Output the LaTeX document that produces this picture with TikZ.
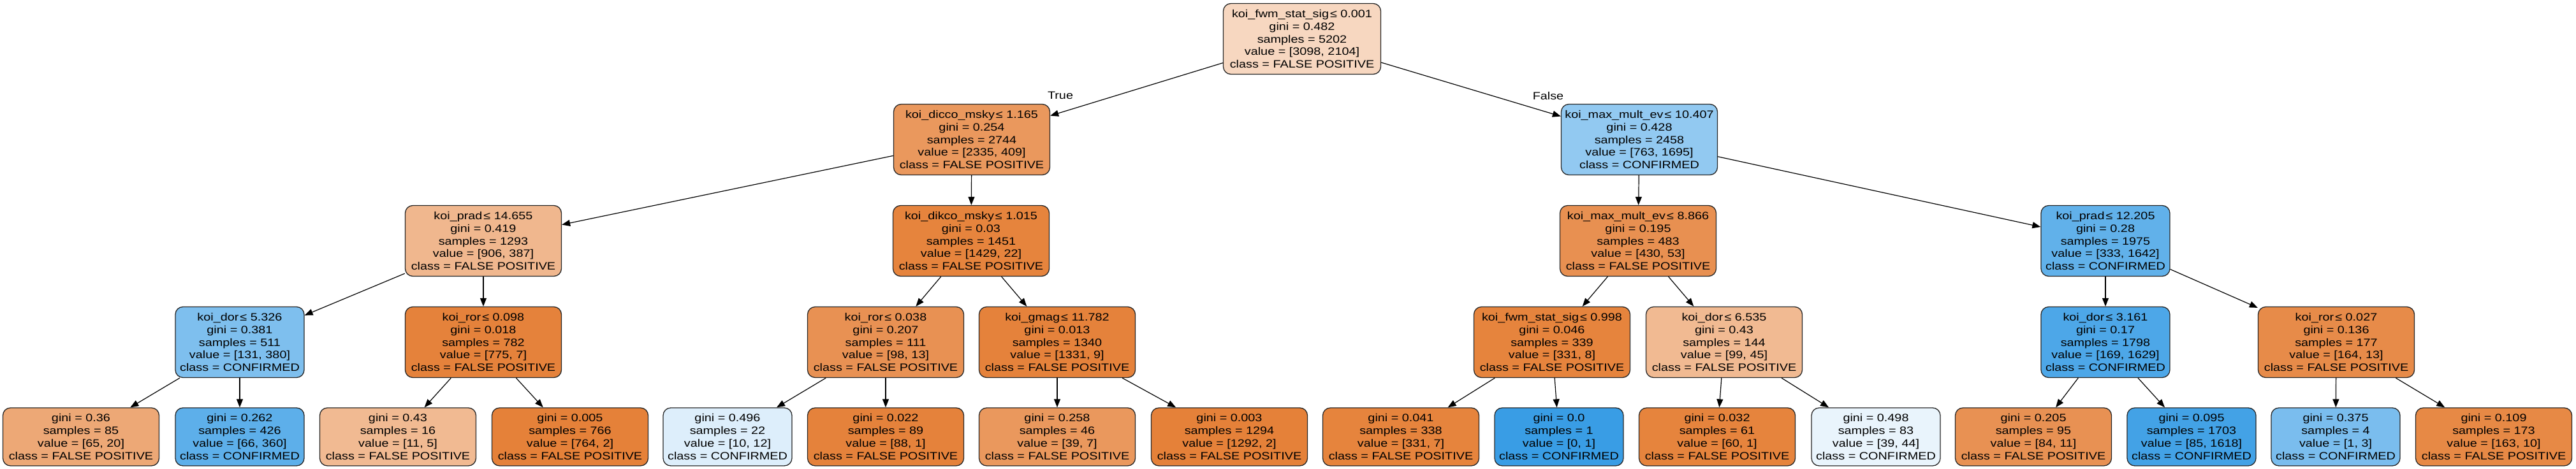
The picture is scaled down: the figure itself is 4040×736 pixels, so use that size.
\documentclass[tikz,border=0pt]{standalone}
\usepackage{fontspec}
\setmainfont{Liberation Sans}[FakeStretch=1.18]
\usetikzlibrary{arrows.meta}
\definecolor{fpc}{RGB}{229,129,57}
\definecolor{cfc}{RGB}{57,157,229}
\newcommand{\lesym}{\hspace{2pt}≤ }
\begin{document}
\begin{tikzpicture}[x=1pt,y=-1pt,
  tn/.style={rectangle, rounded corners=12pt, draw=black!85, line width=1.3pt, align=center, inner sep=0pt, font=\fontsize{16.8}{19.7}\selectfont},
  wd/.style={tn, minimum width=245pt, minimum height=111pt},
  nw/.style={tn, minimum width=202pt, minimum height=111pt},
  wdl/.style={tn, minimum width=245pt, minimum height=91pt},
  nwl/.style={tn, minimum width=202pt, minimum height=91pt},
  ed/.style={line width=1.2pt, -{Triangle[length=13pt,width=10pt]}},
  lbl/.style={font=\fontsize{16.8}{19.7}\selectfont, inner sep=0pt}]
\useasboundingbox (0,0) rectangle (4040,736);
% level 1
\node[wd, minimum width=247pt, fill=fpc!32!white] (r) at (2042,61) {koi\_fwm\_stat\_sig\lesym 0.001\\gini = 0.482\\samples = 5202\\value = [3098, 2104]\\class = FALSE POSITIVE};
% level 2
\node[wd, fill=fpc!82!white] (a) at (1524,219) {koi\_dicco\_msky\lesym 1.165\\gini = 0.254\\samples = 2744\\value = [2335, 409]\\class = FALSE POSITIVE};
\node[wd, fill=cfc!55!white] (b) at (2571,219) {koi\_max\_mult\_ev\lesym 10.407\\gini = 0.428\\samples = 2458\\value = [763, 1695]\\class = CONFIRMED};
% level 3
\node[wd, fill=fpc!57!white] (c) at (758,378) {koi\_prad\lesym 14.655\\gini = 0.419\\samples = 1293\\value = [906, 387]\\class = FALSE POSITIVE};
\node[wd, fill=fpc!98!white] (d) at (1523,378) {koi\_dikco\_msky\lesym 1.015\\gini = 0.03\\samples = 1451\\value = [1429, 22]\\class = FALSE POSITIVE};
\node[wd, fill=fpc!88!white] (e) at (2569,378) {koi\_max\_mult\_ev\lesym 8.866\\gini = 0.195\\samples = 483\\value = [430, 53]\\class = FALSE POSITIVE};
\node[nw, fill=cfc!80!white] (f) at (3302,378) {koi\_prad\lesym 12.205\\gini = 0.28\\samples = 1975\\value = [333, 1642]\\class = CONFIRMED};
% level 4
\node[nw, fill=cfc!65!white] (g) at (376,537) {koi\_dor\lesym 5.326\\gini = 0.381\\samples = 511\\value = [131, 380]\\class = CONFIRMED};
\node[wd, fill=fpc!99!white] (h) at (758,537) {koi\_ror\lesym 0.098\\gini = 0.018\\samples = 782\\value = [775, 7]\\class = FALSE POSITIVE};
\node[wd, fill=fpc!87!white] (i) at (1389,537) {koi\_ror\lesym 0.038\\gini = 0.207\\samples = 111\\value = [98, 13]\\class = FALSE POSITIVE};
\node[wd, fill=fpc!99!white] (j) at (1658,537) {koi\_gmag\lesym 11.782\\gini = 0.013\\samples = 1340\\value = [1331, 9]\\class = FALSE POSITIVE};
\node[wd, fill=fpc!98!white] (k) at (2434,537) {koi\_fwm\_stat\_sig\lesym 0.998\\gini = 0.046\\samples = 339\\value = [331, 8]\\class = FALSE POSITIVE};
\node[wd, fill=fpc!55!white] (l) at (2704,537) {koi\_dor\lesym 6.535\\gini = 0.43\\samples = 144\\value = [99, 45]\\class = FALSE POSITIVE};
\node[nw, fill=cfc!90!white] (m) at (3302,537) {koi\_dor\lesym 3.161\\gini = 0.17\\samples = 1798\\value = [169, 1629]\\class = CONFIRMED};
\node[wd, fill=fpc!92!white] (n) at (3664,537) {koi\_ror\lesym 0.027\\gini = 0.136\\samples = 177\\value = [164, 13]\\class = FALSE POSITIVE};
% leaves
\node[wdl, fill=fpc!69!white] (l1) at (127,685.5) {gini = 0.36\\samples = 85\\value = [65, 20]\\class = FALSE POSITIVE};
\node[nwl, fill=cfc!82!white] (l2) at (376,685.5) {gini = 0.262\\samples = 426\\value = [66, 360]\\class = CONFIRMED};
\node[wdl, fill=fpc!55!white] (l3) at (624,685.5) {gini = 0.43\\samples = 16\\value = [11, 5]\\class = FALSE POSITIVE};
\node[wdl, fill=fpc!100!white] (l4) at (894,685.5) {gini = 0.005\\samples = 766\\value = [764, 2]\\class = FALSE POSITIVE};
\node[nwl, fill=cfc!17!white] (l5) at (1141,685.5) {gini = 0.496\\samples = 22\\value = [10, 12]\\class = CONFIRMED};
\node[wdl, fill=fpc!99!white] (l6) at (1389,685.5) {gini = 0.022\\samples = 89\\value = [88, 1]\\class = FALSE POSITIVE};
\node[wdl, fill=fpc!82!white] (l7) at (1658,685.5) {gini = 0.258\\samples = 46\\value = [39, 7]\\class = FALSE POSITIVE};
\node[wdl, fill=fpc!100!white] (l8) at (1928,685.5) {gini = 0.003\\samples = 1294\\value = [1292, 2]\\class = FALSE POSITIVE};
\node[wdl, fill=fpc!98!white] (l9) at (2197,685.5) {gini = 0.041\\samples = 338\\value = [331, 7]\\class = FALSE POSITIVE};
\node[nwl, fill=cfc!100!white] (l10) at (2445,685.5) {gini = 0.0\\samples = 1\\value = [0, 1]\\class = CONFIRMED};
\node[wdl, fill=fpc!98!white] (l11) at (2693,685.5) {gini = 0.032\\samples = 61\\value = [60, 1]\\class = FALSE POSITIVE};
\node[nwl, fill=cfc!11!white] (l12) at (2942,685.5) {gini = 0.498\\samples = 83\\value = [39, 44]\\class = CONFIRMED};
\node[wdl, fill=fpc!87!white] (l13) at (3189,685.5) {gini = 0.205\\samples = 95\\value = [84, 11]\\class = FALSE POSITIVE};
\node[nwl, fill=cfc!95!white] (l14) at (3437,685.5) {gini = 0.095\\samples = 1703\\value = [85, 1618]\\class = CONFIRMED};
\node[nwl, fill=cfc!67!white] (l15) at (3663,685.5) {gini = 0.375\\samples = 4\\value = [1, 3]\\class = CONFIRMED};
\node[wdl, fill=fpc!94!white] (l16) at (3911,685.5) {gini = 0.109\\samples = 173\\value = [163, 10]\\class = FALSE POSITIVE};
% edges
\draw[ed] (r) -- (a);
\draw[ed] (r) -- (b);
\draw[ed] (a) -- (c);
\draw[ed] (a) -- (d);
\draw[ed] (b) -- (e);
\draw[ed] (b) -- (f);
\draw[ed] (c) -- (g);
\draw[ed] (c) -- (h);
\draw[ed] (d) -- (i);
\draw[ed] (d) -- (j);
\draw[ed] (e) -- (k);
\draw[ed] (e) -- (l);
\draw[ed] (f) -- (m);
\draw[ed] (f) -- (n);
\draw[ed] (g) -- (l1);
\draw[ed] (g) -- (l2);
\draw[ed] (h) -- (l3);
\draw[ed] (h) -- (l4);
\draw[ed] (i) -- (l5);
\draw[ed] (i) -- (l6);
\draw[ed] (j) -- (l7);
\draw[ed] (j) -- (l8);
\draw[ed] (k) -- (l9);
\draw[ed] (k) -- (l10);
\draw[ed] (l) -- (l11);
\draw[ed] (l) -- (l12);
\draw[ed] (m) -- (l13);
\draw[ed] (m) -- (l14);
\draw[ed] (n) -- (l15);
\draw[ed] (n) -- (l16);
% labels
\node[lbl] (tl) at (1663,150) {True};
\node[lbl] (fl) at (2428,150) {False};
\end{tikzpicture}
\end{document}
